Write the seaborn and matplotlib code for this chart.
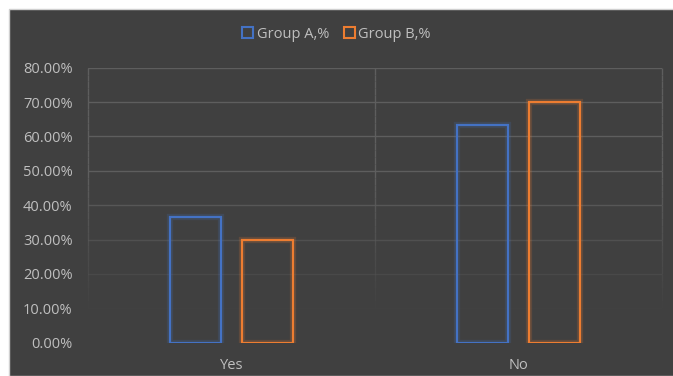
import numpy as np
import pandas as pd
import matplotlib
matplotlib.use("Agg")
import matplotlib.pyplot as plt
import matplotlib.patheffects as pe
from matplotlib.patches import Rectangle, Patch
import seaborn as sns

categories = ["Yes", "No"]
group_a = [36.67, 63.33]
group_b = [30.0, 70.0]
series_names = ["Group A,%", "Group B,%"]
y_ticks = [0, 10, 20, 30, 40, 50, 60, 70, 80]
y_tick_labels = [f"{v:.2f}%" for v in y_ticks]

df = pd.DataFrame({
    "cat": categories * 2,
    "val": group_a + group_b,
    "grp": [series_names[0]] * 2 + [series_names[1]] * 2,
})

sns.set_theme(style="white")
plt.rcParams["font.family"] = ["Open Sans", "DejaVu Sans"]

BG = "#404040"
TXT = "#BFBFBF"
colors = ["#4472C4", "#ED7D31"]

fig = plt.figure(figsize=(6.73, 3.76), dpi=100, facecolor="white")
# dark chart area
fig.patches.append(Rectangle((9 / 673, 0), 1, (376 - 9) / 376, transform=fig.transFigure,
                             facecolor=BG, edgecolor="#D0D0D0", linewidth=1.0, zorder=-10))

ax = fig.add_axes([88 / 673, (376 - 342.7) / 376, 574 / 673, 275 / 376])
ax.set_facecolor("none")
ax.set_zorder(5)

sns.barplot(data=df, x="cat", y="val", hue="grp", order=categories, hue_order=series_names,
            palette=colors, width=0.5, gap=0.28, fill=False, linewidth=1.6,
            legend=False, ax=ax, zorder=3)

for i, p in enumerate(ax.patches):
    ec = p.get_edgecolor()
    p.set_path_effects([pe.Stroke(linewidth=4.5, foreground=ec, alpha=0.18), pe.Normal()])

ax.set_ylim(0, 80)
ax.set_xlim(-0.5, 1.5)
ax.set_yticks(y_ticks)
ax.set_yticklabels(y_tick_labels, color=TXT, fontsize=10.5)
ax.tick_params(axis="both", length=0)
ax.tick_params(axis="y", pad=11)
ax.tick_params(axis="x", pad=11)
for lbl in ax.get_xticklabels():
    lbl.set_color(TXT)
    lbl.set_fontsize(10.5)
ax.set_xlabel("")
ax.set_ylabel("")
for s in ax.spines.values():
    s.set_visible(False)

# gridlines fading toward the bottom
grid_c = "#5E5E5E"
for v in y_ticks[1:]:
    a = min(1.0, max(0.0, (v - 8) / 40))
    ax.axhline(v, color=grid_c, lw=1.0, alpha=a, zorder=1)
for xv in [-0.5, 0.5, 1.5]:
    segs = np.linspace(0, 80, 41)
    for y0, y1 in zip(segs[:-1], segs[1:]):
        a = min(1.0, max(0.0, (y0 - 8) / 40))
        ax.plot([xv, xv], [y0, y1], color=grid_c, lw=1.0, alpha=a, zorder=1,
                solid_capstyle="butt", clip_on=False)

handles = [Patch(facecolor="none", edgecolor=c, linewidth=1.5, label=n) for c, n in zip(colors, series_names)]
leg = fig.legend(handles=handles, loc="center", bbox_to_anchor=(0.5, (376 - 34) / 376), ncol=2,
                 frameon=False, fontsize=10.5, labelcolor=TXT, handlelength=0.75, handleheight=0.75,
                 handletextpad=0.25, columnspacing=1.0)

fig.savefig("out.png", dpi=100, facecolor="white")
